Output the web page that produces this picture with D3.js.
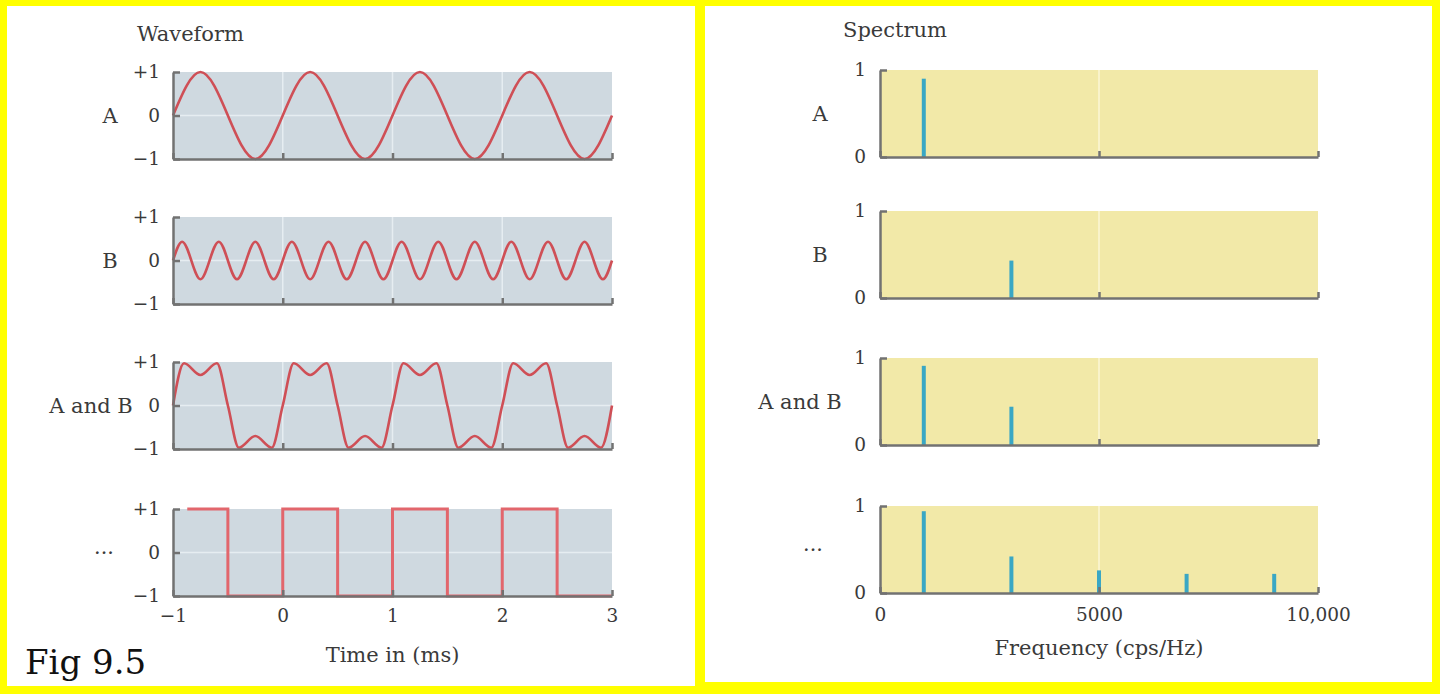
<!DOCTYPE html>
<meta charset="utf-8">
<head>
  <style>
    body { margin: 0; background: #fff; }
    text { font-family: "DejaVu Serif", serif; fill: #3a3a3a; }
    .tick text { font-size: 18.5px; }
    .axis path, .axis line { stroke: #727272; stroke-width: 2.5; }
    .row-label { font-size: 21px; }
    .title { font-size: 21px; }
    .grid-w { stroke: #e6edf1; stroke-width: 1.5; }
    .grid-s { stroke: #fbf6d6; stroke-width: 1.5; }
    .wave { fill: none; stroke: #cf4f56; stroke-width: 2.6; }
    .square { fill: none; stroke: #e2666c; stroke-width: 3; }
    .peak { stroke: #3aa7c4; stroke-width: 4; }
  </style>
  <script src="https://cdn.jsdelivr.net/npm/d3@7"></script>
</head>

<body>
  <div id="viz"></div>
</body>

<script>
// --- data ---
var rowLabels = ["A", "B", "A and B", "\u00b7\u00b7\u00b7"];
var timeTicks = [-1, 0, 1, 2, 3];
var ampTicks = [-1, 0, 1];
var ampTickLabels = ["\u22121", "0", "+1"];
var freqTicks = [0, 5000, 10000];
var freqTickLabels = ["0", "5000", "10,000"];

// waveforms: [time in ms, amplitude]
var waveA = [[-1,0],[-0.75,1],[-0.5,0],[-0.25,-1],[0,0],[0.25,1],[0.5,0],[0.75,-1],
  [1,0],[1.25,1],[1.5,0],[1.75,-1],[2,0],[2.25,1],[2.5,0],[2.75,-1],[3,0]];

var waveB = [[-1,0],[-0.917,0.43],[-0.833,0],[-0.75,-0.43],[-0.667,0],[-0.583,0.43],
  [-0.5,0],[-0.417,-0.43],[-0.333,0],[-0.25,0.43],[-0.167,0],[-0.083,-0.43],
  [0,0],[0.083,0.43],[0.167,0],[0.25,-0.43],[0.333,0],[0.417,0.43],
  [0.5,0],[0.583,-0.43],[0.667,0],[0.75,0.43],[0.833,0],[0.917,-0.43],
  [1,0],[1.083,0.43],[1.167,0],[1.25,-0.43],[1.333,0],[1.417,0.43],
  [1.5,0],[1.583,-0.43],[1.667,0],[1.75,0.43],[1.833,0],[1.917,-0.43],
  [2,0],[2.083,0.43],[2.167,0],[2.25,-0.43],[2.333,0],[2.417,0.43],
  [2.5,0],[2.583,-0.43],[2.667,0],[2.75,0.43],[2.833,0],[2.917,-0.43],[3,0]];

var waveAB = [[-1,0],[-0.9,0.97],[-0.75,0.7],[-0.6,0.97],[-0.5,0],[-0.4,-0.97],[-0.25,-0.7],[-0.1,-0.97],
  [0,0],[0.1,0.97],[0.25,0.7],[0.4,0.97],[0.5,0],[0.6,-0.97],[0.75,-0.7],[0.9,-0.97],
  [1,0],[1.1,0.97],[1.25,0.7],[1.4,0.97],[1.5,0],[1.6,-0.97],[1.75,-0.7],[1.9,-0.97],
  [2,0],[2.1,0.97],[2.25,0.7],[2.4,0.97],[2.5,0],[2.6,-0.97],[2.75,-0.7],[2.9,-0.97],[3,0]];

var waveSquare = [[-0.87,1],[-0.5,-1],[0,1],[0.5,-1],[1,1],[1.5,-1],[2,1],[2.5,-1],[3,-1]];

// spectra: frequency (Hz) and relative amplitude
var specFreqA = [1000],  specAmpA = [0.9];
var specFreqB = [3000],  specAmpB = [0.43];
var specFreqAB = [1000, 3000], specAmpAB = [0.91, 0.44];
var specFreqSq = [1000, 3000, 5000, 7000, 9000], specAmpSq = [0.94, 0.42, 0.26, 0.22, 0.22];

var rows = [
  { label: rowLabels[0], wave: waveA, curve: d3.curveNatural, freq: specFreqA, amp: specAmpA },
  { label: rowLabels[1], wave: waveB, curve: d3.curveNatural, freq: specFreqB, amp: specAmpB },
  { label: rowLabels[2], wave: waveAB, curve: d3.curveMonotoneX, freq: specFreqAB, amp: specAmpAB },
  { label: rowLabels[3], wave: waveSquare, curve: d3.curveStepAfter, freq: specFreqSq, amp: specAmpSq }
];

// --- layout ---
var W = 1440, H = 694;
var waveTops = [72, 217, 362, 509], waveH = 87;
var specTops = [70, 211, 358, 506], specH = 87;
var waveLabelX = [110, 110, 91, 104];
var specLabelX = [820, 820, 800, 813];

var svg = d3.select("#viz").append("svg")
  .attr("width", W).attr("height", H);

// yellow frames
svg.append("rect").attr("x", 0).attr("y", 0).attr("width", W).attr("height", H).attr("fill", "#ffff00");
svg.append("rect").attr("x", 7).attr("y", 6).attr("width", 688).attr("height", 680).attr("fill", "#fff");
svg.append("rect").attr("x", 705).attr("y", 6).attr("width", 727).attr("height", 676).attr("fill", "#fff");

var xT = d3.scaleLinear().domain([-1, 3]).range([173, 612]);
var xF = d3.scaleLinear().domain([0, 10000]).range([880, 1318]);

rows.forEach(function(row, i) {
  var last = i === rows.length - 1;

  /* waveform panel */
  var y = d3.scaleLinear().domain([-1, 1]).range([waveTops[i] + waveH, waveTops[i]]);
  var g = svg.append("g");
  g.append("rect")
    .attr("x", xT(-1)).attr("y", y(1))
    .attr("width", xT(3) - xT(-1)).attr("height", y(-1) - y(1))
    .attr("fill", "#cfd9e0");
  g.selectAll(".gv").data([0, 1, 2]).enter().append("line")
    .attr("class", "grid-w")
    .attr("x1", xT).attr("x2", xT).attr("y1", y(1)).attr("y2", y(-1));
  g.append("line").attr("class", "grid-w")
    .attr("x1", xT(-1)).attr("x2", xT(3)).attr("y1", y(0)).attr("y2", y(0));

  g.append("path")
    .datum(row.wave)
    .attr("class", last ? "square" : "wave")
    .attr("d", d3.line().curve(row.curve)
      .x(function(d) { return xT(d[0]); })
      .y(function(d) { return y(d[1]); }));

  g.append("g").attr("class", "axis")
    .attr("transform", "translate(0," + y(-1) + ")")
    .call(d3.axisBottom(xT).tickValues(timeTicks).tickSizeInner(-6).tickSizeOuter(0).tickPadding(13)
      .tickFormat(function(d) { return last ? (d < 0 ? "\u2212" + (-d) : d) : ""; }));
  g.append("g").attr("class", "axis")
    .attr("transform", "translate(" + xT(-1) + ",0)")
    .call(d3.axisLeft(y).tickValues(ampTicks).tickSizeInner(-7).tickSizeOuter(0).tickPadding(13)
      .tickFormat(function(d, k) { return ampTickLabels[k]; }));

  g.append("text").attr("class", "row-label")
    .attr("x", waveLabelX[i]).attr("y", y(0)).attr("dy", "0.35em")
    .attr("text-anchor", "middle").text(row.label);

  /* spectrum panel */
  var ys = d3.scaleLinear().domain([0, 1]).range([specTops[i] + specH, specTops[i]]);
  var s = svg.append("g");
  s.append("rect")
    .attr("x", xF(0)).attr("y", ys(1))
    .attr("width", xF(10000) - xF(0)).attr("height", ys(0) - ys(1))
    .attr("fill", "#f2e9a8");
  s.append("line").attr("class", "grid-s")
    .attr("x1", xF(5000)).attr("x2", xF(5000)).attr("y1", ys(1)).attr("y2", ys(0));

  s.selectAll(".peak")
    .data(row.freq)
    .enter().append("line")
      .attr("class", "peak")
      .attr("x1", function(d) { return xF(d); })
      .attr("x2", function(d) { return xF(d); })
      .attr("y1", ys(0))
      .attr("y2", function(d, k) { return ys(row.amp[k]); });

  s.append("g").attr("class", "axis")
    .attr("transform", "translate(0," + ys(0) + ")")
    .call(d3.axisBottom(xF).tickValues(freqTicks).tickSizeInner(-6).tickSizeOuter(0).tickPadding(15)
      .tickFormat(function(d, k) { return last ? freqTickLabels[k] : ""; }));
  s.append("g").attr("class", "axis")
    .attr("transform", "translate(" + xF(0) + ",0)")
    .call(d3.axisLeft(ys).tickValues([0, 1]).tickSizeInner(-7).tickSizeOuter(0).tickPadding(14)
      .tickFormat(d3.format("d")));

  s.append("text").attr("class", "row-label")
    .attr("x", specLabelX[i]).attr("y", ys(0.5)).attr("dy", "0.35em")
    .attr("text-anchor", "middle").text(row.label);
});

// tidy tick text
svg.selectAll(".tick text").attr("fill", "#3a3a3a").style("font-family", "'DejaVu Serif', serif");

// titles and axis names
svg.append("text").attr("class", "title").attr("x", 137).attr("y", 41).text("Waveform");
svg.append("text").attr("class", "title").attr("x", 843).attr("y", 37).text("Spectrum");
svg.append("text").attr("class", "title").attr("x", xT(1)).attr("y", 662)
  .attr("text-anchor", "middle").text("Time in (ms)");
svg.append("text").attr("class", "title").attr("x", xF(5000)).attr("y", 655)
  .attr("text-anchor", "middle").text("Frequency (cps/Hz)");
svg.append("text").attr("x", 25).attr("y", 674)
  .style("font-size", "34px").style("fill", "#111").text("Fig 9.5");
</script>
